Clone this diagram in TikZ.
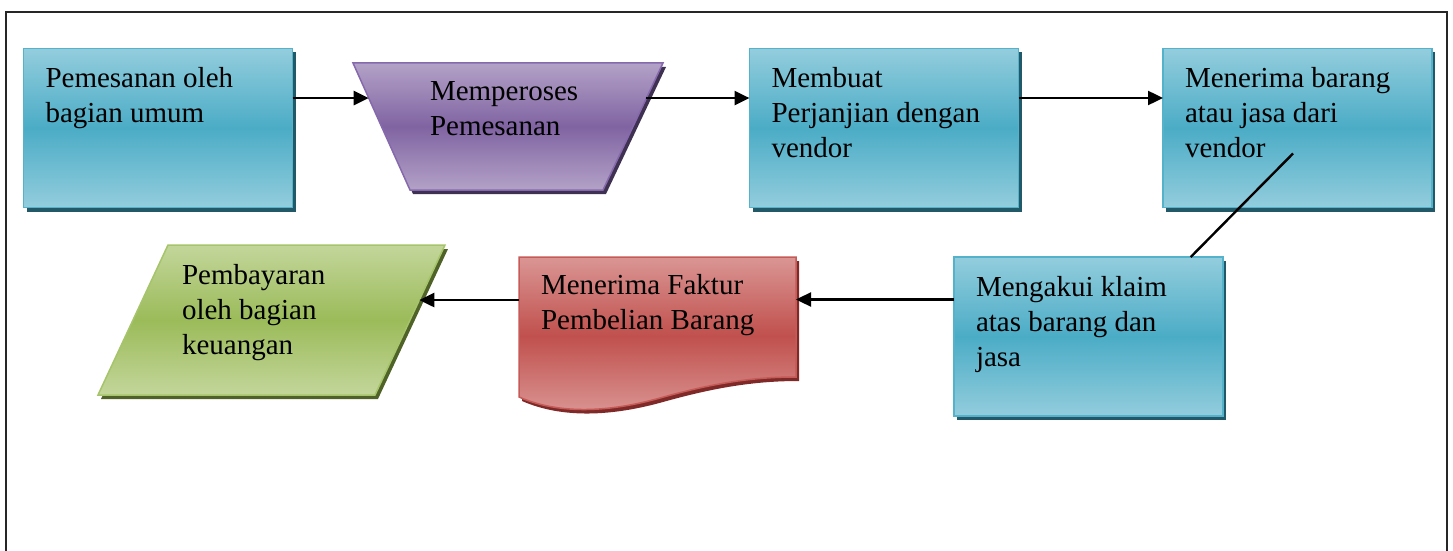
\documentclass[tikz,border=0pt]{standalone}
\usepackage{fontspec}
\setmainfont{Liberation Serif}
\usetikzlibrary{arrows.meta,calc,shadows}

\definecolor{tealmid}{HTML}{4BACC6}
\definecolor{teallight}{HTML}{93CDDD}
\definecolor{tealline}{HTML}{55B2CB}
\definecolor{tealshadow}{HTML}{215968}
\definecolor{purplemid}{HTML}{8064A2}
\definecolor{purplelight}{HTML}{B3A2C7}
\definecolor{purpleline}{HTML}{8669AC}
\definecolor{purpleshadow}{HTML}{3F3151}
\definecolor{redmid}{HTML}{C0504D}
\definecolor{redlight}{HTML}{DA9694}
\definecolor{redline}{HTML}{C55A57}
\definecolor{redshadow}{HTML}{7F2A28}
\definecolor{greenmid}{HTML}{9BBB59}
\definecolor{greenlight}{HTML}{C3D69B}
\definecolor{greenline}{HTML}{A6C46A}
\definecolor{greenshadow}{HTML}{4F6228}

\begin{document}
\begin{tikzpicture}
  [x=1pt,y=-1pt,
   every node/.style={inner sep=0pt,outer sep=0pt},
   tealbox/.style={draw=tealline,line width=1.5pt,
     top color=teallight,bottom color=teallight,middle color=tealmid,
     drop shadow={shadow xshift=3pt,shadow yshift=-4pt,opacity=1,fill=tealshadow},
     minimum width=269pt,minimum height=159pt},
   shapebox/.style={minimum width=#1},
   purpleshape/.style={draw=purpleline,line width=1.5pt,
     top color=purplelight,bottom color=purplelight,middle color=purplemid,
     drop shadow={shadow xshift=3pt,shadow yshift=-4pt,opacity=1,fill=purpleshadow}},
   redshape/.style={draw=redline,line width=1.5pt,
     top color=redlight,bottom color=redlight,middle color=redmid,
     drop shadow={shadow xshift=3pt,shadow yshift=-4pt,opacity=1,fill=redshadow}},
   greenshape/.style={draw=greenline,line width=1.5pt,
     top color=greenlight,bottom color=greenlight,middle color=greenmid,
     drop shadow={shadow xshift=3pt,shadow yshift=-4pt,opacity=1,fill=greenshadow}},
   txt/.style={anchor=north west,align=left,font=\fontsize{29}{35}\selectfont},
   arr/.style={-{Triangle[length=15pt,width=14pt]},line width=2.4pt},
   link/.style={line width=2.4pt}]
  \useasboundingbox (0,0) rectangle (1453,551);
  \draw[line width=2pt,black!85] (6,551) -- (6,12) -- (1447,12) -- (1447,551);

  % boxes
  \node[tealbox] (pesan) at (158,128) {};
  \node[shapebox=310pt,minimum height=127pt] (proses) at (508,126.5) {};
  \node[tealbox] (janji) at (884,128) {};
  \node[tealbox] (terima) at (1297.5,128) {};
  \node[tealbox] (klaim) at (1088.5,336.5) {};
  \node[shapebox=277pt,minimum height=140pt] (faktur) at (657.5,327) {};
  \node[shapebox=347pt,minimum height=150pt] (bayar) at (271.5,320) {};

  \coordinate (proses-sw) at ($(proses.south west)+(57,0)$);
  \coordinate (proses-se) at ($(proses.south east)+(-60,0)$);
  \coordinate (bayar-nw) at ($(bayar.north west)+(70,0)$);
  \coordinate (bayar-se) at ($(bayar.south east)+(-70,0)$);

  \path[purpleshape] (proses.north west) -- (proses.north east) -- (proses-se) -- (proses-sw) -- cycle;
  \path[greenshape] (bayar-nw) -- (bayar.north east) -- (bayar-se) -- (bayar.south west) -- cycle;
  \path[redshape] (faktur.north west) -- (faktur.north east) -- ++(0,120)
    .. controls +(-46,0) and +(50,-14) .. ++(-136,21)
    .. controls +(-50,14) and +(41,18) .. (faktur.south west) -- cycle;

  % texts
  \node[txt] (t-pesan) at ($(pesan.north west)+(22,19)$) {Pemesanan oleh\\bagian umum};
  \node[txt] (t-proses) at ($(proses.north west)+(77,19)$) {Memperoses\\Pemesanan};
  \node[txt] (t-janji) at ($(janji.north west)+(22,19)$) {Membuat\\Perjanjian dengan\\vendor};
  \node[txt] (t-terima) at ($(terima.north west)+(22,19)$) {Menerima barang\\atau jasa dari\\vendor};
  \node[txt] (t-klaim) at ($(klaim.north west)+(22,19)$) {Mengakui klaim\\atas barang dan\\jasa};
  \node[txt] (t-faktur) at ($(faktur.north west)+(22,17)$) {Menerima Faktur\\Pembelian Barang};
  \node[txt] (t-bayar) at ($(bayar.north west)+(84,19)$) {Pembayaran\\oleh bagian\\keuangan};

  % connectors
  \coordinate (proses-in) at ($(proses.north west)!.276!(proses-sw)$);
  \coordinate (proses-out) at ($(proses.north east)!.276!(proses-se)$);
  \coordinate (bayar-in) at ($(bayar.north east)!.367!(bayar-se)$);
  \coordinate (terima-out) at ($(terima.south west)+(130,-54)$);
  \coordinate (klaim-out) at ([yshift=37pt]klaim.west);

  \draw[arr] (pesan.east |- proses-in) -- (proses-in);
  \draw[arr] (proses-out) -- (janji.west |- proses-out);
  \draw[arr] ([yshift=30pt]janji.east) -- ([yshift=30pt]terima.west);
  \draw[link] (terima-out) -- ($(klaim.north west)!.88!(klaim.north east)$);
  \draw[arr] (klaim-out) -- (faktur.east |- klaim-out);
  \draw[arr] (faktur.west |- bayar-in) -- (bayar-in);
\end{tikzpicture}
\end{document}
